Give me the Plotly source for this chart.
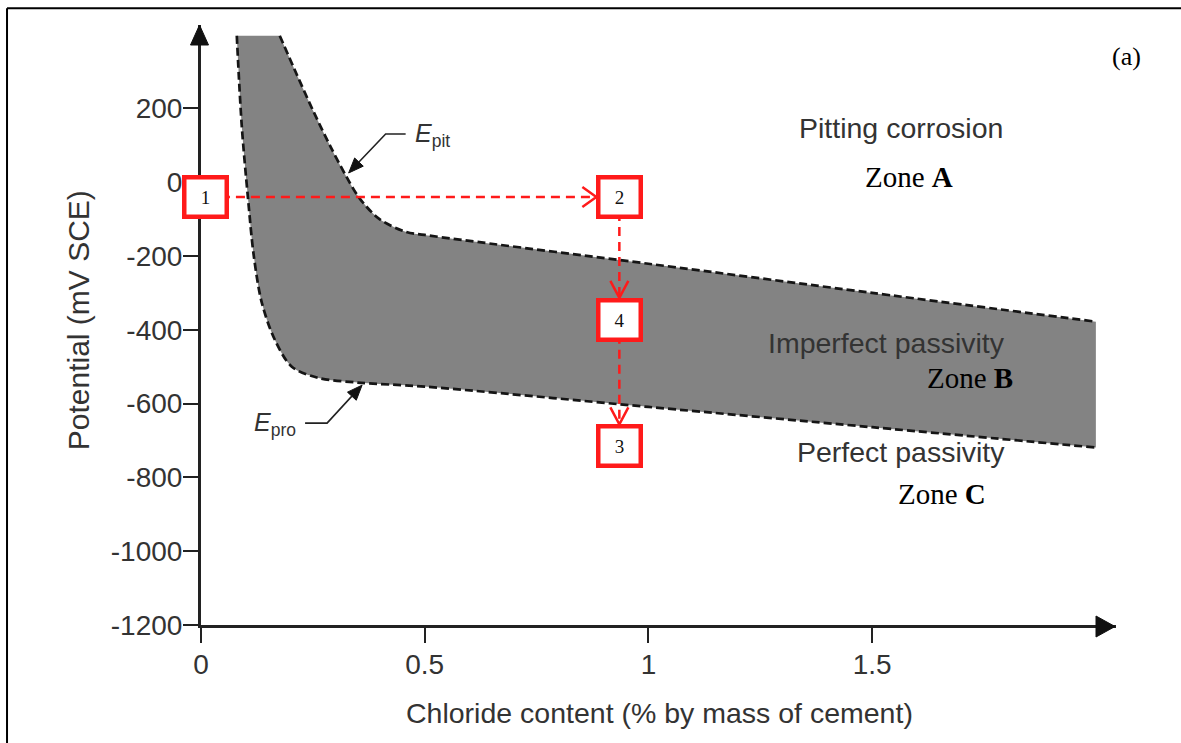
import plotly.graph_objects as go

# Boundary potentials vs. chloride content (% by mass of cement, mV SCE)
epit_x = [0.176, 0.214, 0.252, 0.290, 0.325, 0.354, 0.399, 0.459, 0.500, 1.000, 1.500, 2.000]
epit_y = [397, 292, 190, 95, 15, -43, -100, -135, -143, -221, -300, -378]

epro_x = [0.080, 0.091, 0.105, 0.118, 0.136, 0.165, 0.203, 0.261, 0.350, 0.500, 1.000, 1.500, 2.000]
epro_y = [397, 154, -43, -200, -327, -427, -500, -530, -543, -554, -609, -664, -719]

# Numbered steps of the potential path
step_labels = ["1", "2", "4", "3"]
step_x = [0.011, 0.935, 0.935, 0.935]
step_y = [-40, -40, -373, -716]

x_ticks = [0, 0.5, 1, 1.5]
x_tick_text = ["0", "0.5", "1", "1.5"]
y_ticks = [200, 0, -200, -400, -600, -800, -1000, -1200]
y_tick_text = ["200", "0", "-200", "-400", "-600", "-800", "-1000", "-1200"]

X_RANGE = [0, 2.045]
Y_RANGE = [-1200, 426]

SANS = "Liberation Sans, Arial, sans-serif"
SERIF = "Liberation Serif, Times New Roman, serif"
RED = "#ff1a1a"
AXIS = "#222222"

fig = go.Figure()

# Epro (lower boundary)
fig.add_trace(go.Scatter(
    x=epro_x, y=epro_y, mode="lines",
    line=dict(color="#151515", width=2.7, dash="8px,4px", shape="spline", smoothing=0.9),
    hoverinfo="skip", showlegend=False,
))
# Epit (upper boundary), band filled down to Epro
fig.add_trace(go.Scatter(
    x=epit_x, y=epit_y, mode="lines", fill="tonexty", fillcolor="#838383",
    line=dict(color="#151515", width=2.7, dash="8px,4px", shape="spline", smoothing=0.9),
    hoverinfo="skip", showlegend=False,
))

shapes = []

# Dashed red connectors between the numbered steps
for i in range(len(step_x) - 1):
    shapes.append(dict(
        type="line", xref="x", yref="y", layer="above",
        x0=step_x[i], y0=step_y[i], x1=step_x[i + 1], y1=step_y[i + 1],
        line=dict(color=RED, width=2.5, dash="9px,6px"),
    ))

# Open chevron heads at the receiving box edge (pixel offsets, y up)
chevrons = [
    "M -37 10 L -23 0 L -37 -10",   # into step 2 from the left
    "M -9 39 L 0 22 L 9 39",        # into step 4 from above
    "M -9 39 L 0 22 L 9 39",        # into step 3 from above
]
for k, path in enumerate(chevrons):
    shapes.append(dict(
        type="path", xref="x", yref="y", layer="above",
        xsizemode="pixel", ysizemode="pixel",
        xanchor=step_x[k + 1], yanchor=step_y[k + 1],
        path=path, line=dict(color=RED, width=2.5),
    ))

# Leader arrows for the Epit and Epro labels
shapes.append(dict(
    type="path", xref="x", yref="y", layer="above",
    xsizemode="pixel", ysizemode="pixel", xanchor=0.33, yanchor=25,
    path="M 10.3 10.9 L 37 39 L 57 39", line=dict(color="#222", width=1.6),
))
shapes.append(dict(
    type="path", xref="x", yref="y", layer="above",
    xsizemode="pixel", ysizemode="pixel", xanchor=0.33, yanchor=25,
    path="M 0 0 L 6 15 L 14.6 6.8 Z", fillcolor="#111", line=dict(color="#111", width=1),
))
shapes.append(dict(
    type="path", xref="x", yref="y", layer="above",
    xsizemode="pixel", ysizemode="pixel", xanchor=0.36, yanchor=-550,
    path="M -10.2 -11 L -35 -38 L -57 -38", line=dict(color="#222", width=1.6),
))
shapes.append(dict(
    type="path", xref="x", yref="y", layer="above",
    xsizemode="pixel", ysizemode="pixel", xanchor=0.36, yanchor=-550,
    path="M 0 0 L -5.8 -15.1 L -14.6 -7 Z", fillcolor="#111", line=dict(color="#111", width=1),
))

# Arrowheads at the ends of both axes
shapes.append(dict(
    type="path", xref="paper", yref="paper", layer="above",
    xsizemode="pixel", ysizemode="pixel", xanchor=0, yanchor=1,
    path="M -1.5 0 L -10.5 -20 L 7.5 -20 Z", fillcolor="#111", line=dict(color="#111", width=1),
))
shapes.append(dict(
    type="path", xref="paper", yref="paper", layer="above",
    xsizemode="pixel", ysizemode="pixel", xanchor=1, yanchor=0,
    path="M -1 -1.5 L -20 9 L -20 -12 Z", fillcolor="#111", line=dict(color="#111", width=1),
))

# Outer frame (left and top edges)
shapes.append(dict(type="line", xref="paper", yref="paper", x0=-0.212, x1=-0.212, y0=1.028, y1=-0.25,
                   line=dict(color="#000", width=2)))
shapes.append(dict(type="line", xref="paper", yref="paper", x0=-0.212, x1=1.1, y0=1.028, y1=1.028,
                   line=dict(color="#000", width=2)))

annotations = []

# Numbered step boxes
for lab, sx, sy in zip(step_labels, step_x, step_y):
    annotations.append(dict(
        x=sx, y=sy, xref="x", yref="y", text=lab, showarrow=False,
        width=38, height=35, borderpad=0, borderwidth=4.5,
        bordercolor=RED, bgcolor="white",
        font=dict(family=SERIF, size=19, color="#111"),
    ))

# Curve labels
annotations.append(dict(x=0.474, y=127, xref="x", yref="y", xanchor="left", yanchor="middle",
                        text="<i>E</i><sub>pit</sub>", showarrow=False,
                        font=dict(family=SANS, size=25, color="#333")))
annotations.append(dict(x=0.114, y=-656, xref="x", yref="y", xanchor="left", yanchor="middle",
                        text="<i>E</i><sub>pro</sub>", showarrow=False,
                        font=dict(family=SANS, size=25, color="#333")))

# Zone descriptions
zone_text = [
    ("Pitting corrosion", 0.765, 0.828, SANS, "#333", 28.5),
    ("Zone <b>A</b>", 0.774, 0.747, SERIF, "#000", 29),
    ("Imperfect passivity", 0.749, 0.470, SANS, "#333", 28.5),
    ("Zone <b>B</b>", 0.840, 0.412, SERIF, "#000", 29),
    ("Perfect passivity", 0.765, 0.288, SANS, "#333", 28.5),
    ("Zone <b>C</b>", 0.810, 0.218, SERIF, "#000", 29),
]
for txt, px, py, fam, col, sz in zone_text:
    annotations.append(dict(x=px, y=py, xref="paper", yref="paper", text=txt, showarrow=False,
                            xanchor="center", yanchor="middle",
                            font=dict(family=fam, size=sz, color=col)))

annotations.append(dict(x=1.012, y=0.948, xref="paper", yref="paper", text="(a)", showarrow=False,
                        xanchor="center", yanchor="middle",
                        font=dict(family=SERIF, size=26, color="#000")))

# Axis titles
annotations.append(dict(x=0.5016, y=-0.147, xref="paper", yref="paper",
                        text="Chloride content (% by mass of cement)", showarrow=False,
                        xanchor="center", yanchor="middle",
                        font=dict(family=SANS, size=28.5, color="#333")))
annotations.append(dict(x=-0.1344, y=0.508, xref="paper", yref="paper",
                        text="Potential (mV SCE)", showarrow=False, textangle=-90,
                        xanchor="center", yanchor="middle",
                        font=dict(family=SANS, size=30, color="#333")))

fig.update_layout(
    width=1181, height=743,
    margin=dict(l=201, r=65, t=25, b=118),
    paper_bgcolor="white", plot_bgcolor="white",
    font=dict(family=SANS, color="#333"),
    shapes=shapes, annotations=annotations,
    showlegend=False,
)
fig.update_xaxes(
    range=X_RANGE, showgrid=False, zeroline=False,
    showline=True, linecolor=AXIS, linewidth=3,
    ticks="outside", ticklen=15, tickwidth=2, tickcolor=AXIS,
    tickvals=x_ticks, ticktext=x_tick_text,
    tickfont=dict(family=SANS, size=28, color="#333"),
    ticklabelstandoff=-3,
)
fig.update_yaxes(
    range=Y_RANGE, showgrid=False, zeroline=False,
    showline=True, linecolor=AXIS, linewidth=3,
    ticks="outside", ticklen=15, tickwidth=2, tickcolor=AXIS,
    tickvals=y_ticks, ticktext=y_tick_text,
    tickfont=dict(family=SANS, size=28, color="#333"),
    ticklabelstandoff=-5,
)

fig.write_html("out.html")
